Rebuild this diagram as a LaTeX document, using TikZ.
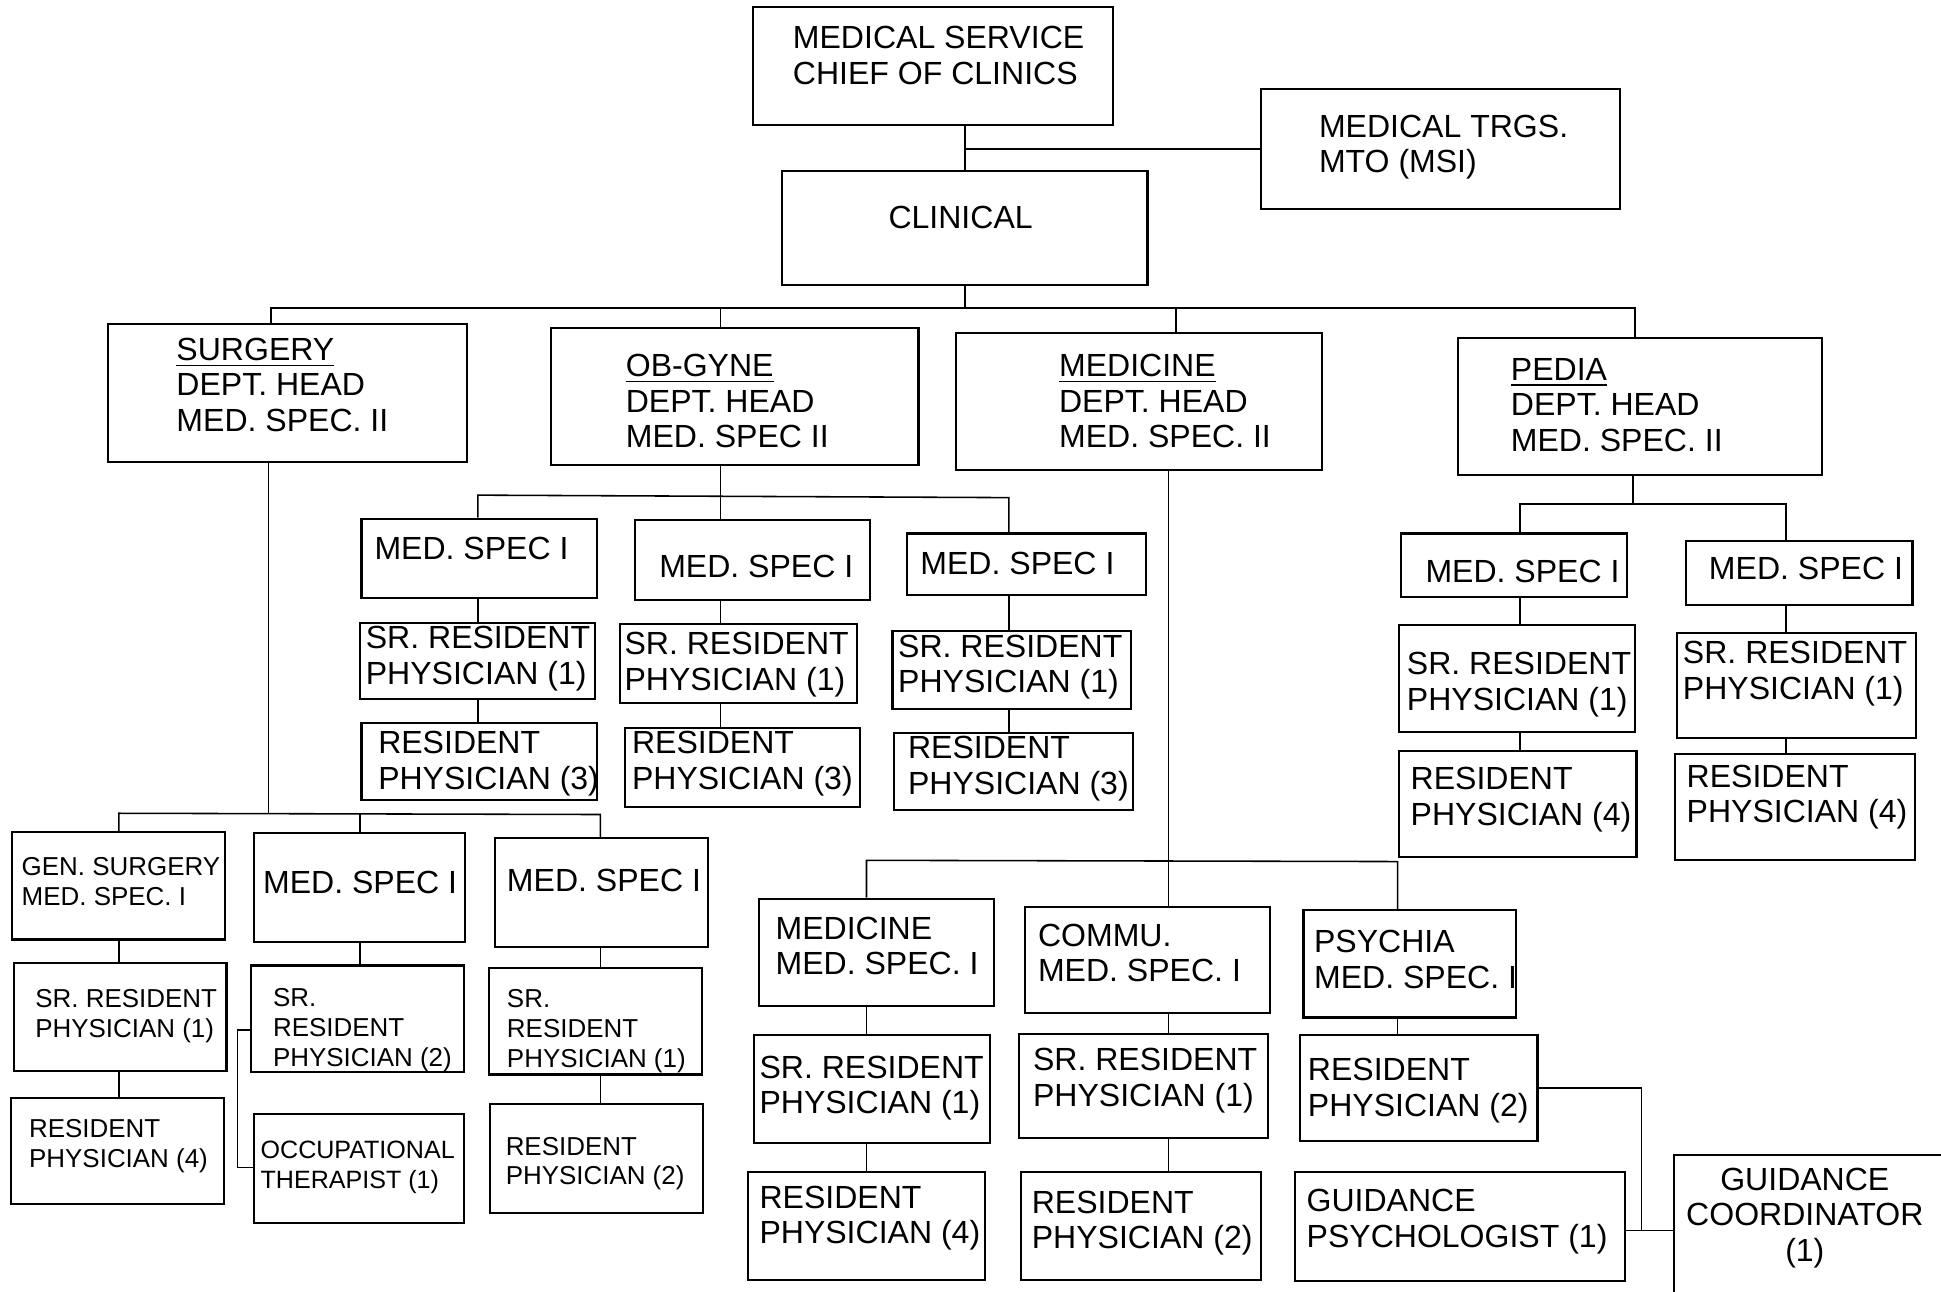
\documentclass[tikz,border=0pt]{standalone}
\usepackage{fontspec}
\setmainfont{Liberation Sans}
\usetikzlibrary{fit}
\usetikzlibrary{calc}

\begin{document}
\begin{tikzpicture}[
x=0.0125cm, y=-0.0125cm,
box/.style={draw, line width=0.6pt, inner sep=0pt},
link/.style={line width=0.45pt},
txt/.style={anchor=west, align=left, inner sep=0pt, font=\fontsize{9.2}{10.2}\selectfont},
small/.style={anchor=west, align=left, inner sep=0pt, font=\fontsize{7.45}{8.6}\selectfont}
]
\useasboundingbox (0,0) rectangle (1568,1043);

\node[box, fit={(608,6) (899,101)}] (chief) {};
\node[txt] (chiefT) at (640,45) {MEDICAL SERVICE\\CHIEF OF CLINICS};
\node[box, fit={(1019,72) (1309,169)}] (trgs) {};
\node[txt] (trgsT) at (1065,119) {MEDICAL TRGS.\\MTO (MSI)};
\node[box, fit={(632,138) (927,230)}] (clinical) {};
\node[txt, anchor=center] (clinicalT) at (776,176) {CLINICAL};

\draw[link] (chief.south -| clinical.north) -- (clinical.north);
\draw[link] (trgs.west) -- (trgs.west -| clinical.north);

\node[box, fit={(87,262) (377,373)}] (surgery) {};
\node[txt] (surgeryT) at (142,311) {\underline{SURGERY}\\DEPT. HEAD\\MED. SPEC. II};
\node[box, fit={(445,265) (742,376)}] (obgyne) {};
\node[txt] (obgyneT) at (505,324) {\underline{OB-GYNE}\\DEPT. HEAD\\MED. SPEC II};
\node[box, fit={(772,269) (1068,380)}] (medicine) {};
\node[txt] (medicineT) at (855,324) {\underline{MEDICINE}\\DEPT. HEAD\\MED. SPEC. II};
\node[box, fit={(1178,273) (1472,384)}] (pedia) {};
\node[txt] (pediaT) at (1220,327) {\underline{PEDIA}\\DEPT. HEAD\\MED. SPEC. II};

\coordinate (bus) at (776,249);
\coordinate (surgIn) at (219,249);
\coordinate (obIn) at (582,249);
\coordinate (medIn) at (950,249);
\coordinate (pedIn) at (1321,249);

\draw[link] (clinical.south) -- (clinical.south |- bus);
\draw[link] (surgery.north -| surgIn) -- (surgIn) -- (pedIn) -- (pedia.north -| pedIn);
\draw[link] (obIn) -- (obgyne.north -| obIn);
\draw[link] (medIn) -- (medicine.north -| medIn);

% ob-gyne
\node[box, fit={(292,419) (482,483)}] (obA) {};
\node[txt] (obAT) at (302,443) {MED. SPEC I};
\node[box, fit={(291,503) (481,565)}] (obAsr) {};
\node[txt] (obAsrT) at (295,532) {SR. RESIDENT\\PHYSICIAN (1)};
\node[box, fit={(292,584) (482,646)}] (obAres) {};
\node[txt] (obAresT) at (305,617) {RESIDENT\\PHYSICIAN (3)};

\node[box, fit={(513,420) (703,485)}] (obB) {};
\node[txt] (obBT) at (532,458) {MED. SPEC I};
\node[box, fit={(501,504) (692,568)}] (obBsr) {};
\node[txt] (obBsrT) at (504,537) {SR. RESIDENT\\PHYSICIAN (1)};
\node[box, fit={(505,588) (695,652)}] (obBres) {};
\node[txt] (obBresT) at (510,617) {RESIDENT\\PHYSICIAN (3)};

\node[box, fit={(733,431) (926,481)}] (obC) {};
\node[txt] (obCT) at (743,455) {MED. SPEC I};
\node[box, fit={(721,510) (914,573)}] (obCsr) {};
\node[txt] (obCsrT) at (725,539) {SR. RESIDENT\\PHYSICIAN (1)};
\node[box, fit={(722,592) (915,654)}] (obCres) {};
\node[txt] (obCresT) at (733,621) {RESIDENT\\PHYSICIAN (3)};

\coordinate (obBus) at (582,400);
\coordinate (obBusA) at (386,400);
\coordinate (obBusC) at (815,402);

\draw[link] (obgyne.south -| obBus) -- (obB.north -| obBus);
\draw[link] (obA.north -| obBusA) -- (obBusA) -- (obBusC) -- (obC.north -| obBusC);
\draw[link] (obA.south -| obBusA) -- (obAsr.north -| obBusA);
\draw[link] (obAsr.south -| obBusA) -- (obAres.north -| obBusA);
\draw[link] (obB.south -| obBus) -- (obBsr.north -| obBus);
\draw[link] (obBsr.south -| obBus) -- (obBres.north -| obBus);
\draw[link] (obC.south -| obBusC) -- (obCsr.north -| obBusC);
\draw[link] (obCsr.south -| obBusC) -- (obCres.north -| obBusC);

% medicine
\node[box, fit={(613,726) (803,813)}] (mdA) {};
\node[txt] (mdAT) at (626,764) {MEDICINE\\MED. SPEC. I};
\node[box, fit={(609,836) (800,923)}] (mdAsr) {};
\node[txt] (mdAsrT) at (613,879) {SR. RESIDENT\\PHYSICIAN (1)};
\node[box, fit={(604,947) (796,1034)}] (mdAres) {};
\node[txt] (mdAresT) at (613,984) {RESIDENT\\PHYSICIAN (4)};

\node[box, fit={(828,733) (1026,818)}] (commu) {};
\node[txt] (commuT) at (838,770) {COMMU.\\MED. SPEC. I};
\node[box, fit={(823,835) (1024,919)}] (commusr) {};
\node[txt] (commusrT) at (834,873) {SR. RESIDENT\\PHYSICIAN (1)};
\node[box, fit={(825,947) (1019,1034)}] (commures) {};
\node[txt] (commuresT) at (833,988) {RESIDENT\\PHYSICIAN (2)};

\node[box, fit={(1053,735) (1225,822)}] (psychia) {};
\node[txt] (psychiaT) at (1061,775) {PSYCHIA\\MED. SPEC. I};
\node[box, fit={(1050,836) (1242,922)}] (psyres) {};
\node[txt] (psyresT) at (1056,881) {RESIDENT\\PHYSICIAN (2)};
\node[box, fit={(1046,947) (1313,1035)}] (guidpsy) {};
\node[txt] (guidpsyT) at (1055,987) {GUIDANCE\\PSYCHOLOGIST (1)};
\node[box, fit={(1352,933) (1580,1060)}] (gcoord) {};
\node[txt, anchor=center, align=center] (gcoordT) at (1458,984) {GUIDANCE\\COORDINATOR\\(1)};

\coordinate (medBus) at (944,695);
\coordinate (medBusA) at (700,695);
\coordinate (medBusC) at (1129,696);
\coordinate (gjoin) at (1326,994);

\draw[link] (medicine.south -| medBus) -- (commu.north -| medBus);
\draw[link] (mdA.north -| medBusA) -- (medBusA) -- (medBusC) -- (psychia.north -| medBusC);
\draw[link] (mdA.south -| medBusA) -- (mdAsr.north -| medBusA);
\draw[link] (mdAsr.south -| medBusA) -- (mdAres.north -| medBusA);
\draw[link] (commu.south -| medBus) -- (commusr.north -| medBus);
\draw[link] (commusr.south -| medBus) -- (commures.north -| medBus);
\draw[link] (psychia.south -| medBusC) -- (psyres.north -| medBusC);
\draw[link] (psyres.east) -- (psyres.east -| gjoin) -- (gjoin);
\draw[link] (guidpsy.east |- gjoin) -- (gcoord.west |- gjoin);

% pedia
\node[box, fit={(1132,431) (1314,482)}] (pdA) {};
\node[txt] (pdAT) at (1151,462) {MED. SPEC I};
\node[box, fit={(1130,505) (1321,591)}] (pdAsr) {};
\node[txt] (pdAsrT) at (1136,553) {SR. RESIDENT\\PHYSICIAN (1)};
\node[box, fit={(1130,607) (1322,692)}] (pdAres) {};
\node[txt] (pdAresT) at (1139,646) {RESIDENT\\PHYSICIAN (4)};

\node[box, fit={(1362,437) (1545,489)}] (pdB) {};
\node[txt] (pdBT) at (1380,459) {MED. SPEC I};
\node[box, fit={(1355,511) (1548,596)}] (pdBsr) {};
\node[txt] (pdBsrT) at (1359,544) {SR. RESIDENT\\PHYSICIAN (1)};
\node[box, fit={(1353,609) (1547,695)}] (pdBres) {};
\node[txt] (pdBresT) at (1362,644) {RESIDENT\\PHYSICIAN (4)};

\coordinate (pedBus) at (1319,407);
\coordinate (pedBusA) at (1228,407);
\coordinate (pedBusB) at (1443,407);

\draw[link] (pedia.south -| pedBus) -- (pedBus);
\draw[link] (pdA.north -| pedBusA) -- (pedBusA) -- (pedBusB) -- (pdB.north -| pedBusB);
\draw[link] (pdA.south -| pedBusA) -- (pdAsr.north -| pedBusA);
\draw[link] (pdAsr.south -| pedBusA) -- (pdAres.north -| pedBusA);
\draw[link] (pdB.south -| pedBusB) -- (pdBsr.north -| pedBusB);
\draw[link] (pdBsr.south -| pedBusB) -- (pdBres.north -| pedBusB);

% surgery
\node[box, fit={(10,672) (182,759)}] (sgA) {};
\node[small] (sgAT) at (17,712) {GEN. SURGERY\\MED. SPEC. I};
\node[box, fit={(11,778) (183,865)}] (sgAsr) {};
\node[small] (sgAsrT) at (28,821) {SR. RESIDENT\\PHYSICIAN (1)};
\node[box, fit={(9,887) (181,973)}] (sgAres) {};
\node[small] (sgAresT) at (23,926) {RESIDENT\\PHYSICIAN (4)};

\node[box, fit={(205,673) (376,761)}] (sgB) {};
\node[txt] (sgBT) at (212,713) {MED. SPEC I};
\node[box, fit={(203,780) (375,866)}] (sgBsr) {};
\node[small] (sgBsrT) at (220,832) {SR.\\RESIDENT\\PHYSICIAN (2)};
\node[box, fit={(205,900) (375,988)}] (occ) {};
\node[small, font=\fontsize{7.2}{8.6}\selectfont] (occT) at (210,943) {OCCUPATIONAL\\THERAPIST (1)};

\node[box, fit={(400,677) (572,765)}] (sgC) {};
\node[txt] (sgCT) at (409,711) {MED. SPEC I};
\node[box, fit={(395,782) (567,868)}] (sgCsr) {};
\node[small] (sgCsrT) at (409,833) {SR.\\RESIDENT\\PHYSICIAN (1)};
\node[box, fit={(396,892) (568,980)}] (sgCres) {};
\node[small] (sgCresT) at (408,940) {RESIDENT\\PHYSICIAN (2)};

\coordinate (sgBus) at (217,657);
\coordinate (sgBusA) at (96,657);
\coordinate (sgBusB) at (291,657);
\coordinate (sgBusC) at (485,658);
\coordinate (occJoin) at (192,832);
\coordinate (occJoinB) at (192,943);

\draw[link] (surgery.south -| sgBus) -- (sgBus);
\draw[link] (sgA.north -| sgBusA) -- (sgBusA) -- (sgBusC) -- (sgC.north -| sgBusC);
\draw[link] (sgBusB) -- (sgB.north -| sgBusB);
\draw[link] (sgA.south -| sgBusA) -- (sgAsr.north -| sgBusA);
\draw[link] (sgAsr.south -| sgBusA) -- (sgAres.north -| sgBusA);
\draw[link] (sgB.south -| sgBusB) -- (sgBsr.north -| sgBusB);
\draw[link] (sgC.south -| sgBusC) -- (sgCsr.north -| sgBusC);
\draw[link] (sgCsr.south -| sgBusC) -- (sgCres.north -| sgBusC);
\draw[link] (sgBsr.west |- occJoin) -- (occJoin) -- (occJoinB) -- (occ.west |- occJoinB);
\end{tikzpicture}
\end{document}
